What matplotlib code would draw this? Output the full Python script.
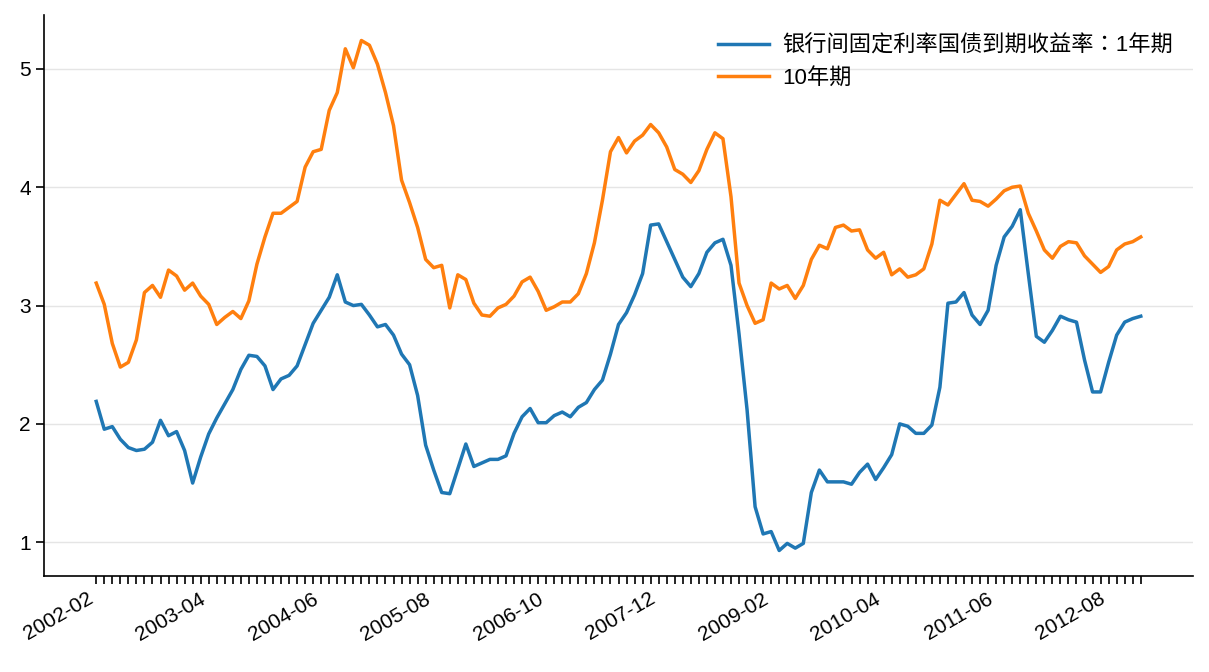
import matplotlib
matplotlib.use("Agg")
import matplotlib.pyplot as plt
import pandas as pd

plt.rcParams['font.family'] = ['Liberation Sans', 'Noto Sans CJK SC', 'DejaVu Sans']
plt.rcParams['font.size'] = 14
plt.rcParams['axes.unicode_minus'] = False

# monthly dates, 2002-02 .. 2012-12
dates = pd.date_range('2002-02-01', periods=131, freq='MS')

# 1-year yield
yield_1y = [
    2.19, 1.955, 1.977, 1.87, 1.80, 1.775, 1.786, 1.845, 2.03, 1.90, 1.935, 1.775, 1.50, 1.72, 1.915, 2.05, 2.17, 2.29, 2.46, 2.58, 2.57, 2.49,
    2.29, 2.38, 2.41, 2.49, 2.67, 2.85, 2.96, 3.07, 3.26, 3.03, 3.00, 3.01, 2.92, 2.82, 2.84, 2.75, 2.59, 2.50, 2.24, 1.82, 1.61, 1.42,
    1.41, 1.62, 1.83, 1.64, 1.67, 1.70, 1.70, 1.73, 1.92, 2.06, 2.13, 2.01, 2.01, 2.07, 2.10, 2.06, 2.14, 2.18, 2.29, 2.37, 2.59, 2.84,
    2.94, 3.09, 3.27, 3.68, 3.69, 3.54, 3.39, 3.24, 3.16, 3.27, 3.45, 3.53, 3.56, 3.34, 2.76, 2.12, 1.30, 1.07, 1.09, 0.93, 0.99, 0.95,
    0.99, 1.42, 1.61, 1.51, 1.51, 1.51, 1.49, 1.59, 1.66, 1.53, 1.63, 1.74, 2.00, 1.98, 1.92, 1.92, 1.99, 2.31, 3.02, 3.03, 3.11,
    2.92, 2.84, 2.96, 3.34, 3.58, 3.67, 3.81, 3.27, 2.74, 2.69, 2.79, 2.91, 2.88, 2.86, 2.54, 2.27, 2.27, 2.52, 2.75, 2.86, 2.89, 2.91,
]

# 10-year yield
yield_10y = [
    3.19, 3.01, 2.68, 2.48, 2.52, 2.71, 3.11, 3.17, 3.07, 3.30, 3.25, 3.13, 3.19, 3.08, 3.01, 2.84, 2.90, 2.95, 2.89, 3.04, 3.35, 3.58,
    3.78, 3.78, 3.83, 3.88, 4.17, 4.30, 4.32, 4.65, 4.80, 5.17, 5.01, 5.24, 5.20, 5.04, 4.80, 4.52, 4.06, 3.87, 3.66, 3.39, 3.32, 3.34,
    2.98, 3.26, 3.22, 3.02, 2.92, 2.91, 2.98, 3.01, 3.08, 3.20, 3.24, 3.12, 2.96, 2.99, 3.03, 3.03, 3.10, 3.27, 3.53, 3.89, 4.30, 4.42,
    4.29, 4.39, 4.44, 4.53, 4.46, 4.34, 4.15, 4.11, 4.04, 4.14, 4.32, 4.46, 4.41, 3.92, 3.19, 3.00, 2.85, 2.88, 3.19, 3.14, 3.17, 3.06,
    3.17, 3.39, 3.51, 3.48, 3.66, 3.68, 3.63, 3.64, 3.47, 3.40, 3.45, 3.26, 3.31, 3.24, 3.26, 3.31, 3.52, 3.89, 3.85, 3.94, 4.03,
    3.89, 3.88, 3.84, 3.90, 3.97, 4.00, 4.01, 3.78, 3.63, 3.47, 3.40, 3.50, 3.54, 3.53, 3.42, 3.35, 3.28, 3.33, 3.47, 3.52, 3.54, 3.58,
]

labels = ['银行间固定利率国债到期收益率：1年期', '10年期']

x = list(range(len(dates)))
tick_labels = [d.strftime('%Y-%m') if i % 14 == 0 else '' for i, d in enumerate(dates)]

fig = plt.figure(figsize=(12.09, 6.72), dpi=100)
ax = fig.add_axes([44 / 1209, 1 - 576 / 672, (1193 - 44) / 1209, (576 - 15) / 672])

ax.plot(x, yield_1y, color='#1f77b4', linewidth=2.5, label=labels[0])
ax.plot(x, yield_10y, color='#ff7f0e', linewidth=2.5, label=labels[1])

ax.set_xticks(x)
ax.set_xticklabels(tick_labels, rotation=30, ha='right', fontsize=15)
ax.set_yticks([1, 2, 3, 4, 5])
ax.tick_params(axis='both', length=6, width=1.2)
ax.tick_params(axis='y', labelsize=15)

ax.grid(True, axis='y', color='#e5e5e5', linewidth=1)
ax.set_axisbelow(True)
for side in ['top', 'right']:
    ax.spines[side].set_visible(False)
for side in ['left', 'bottom']:
    ax.spines[side].set_linewidth(1.2)

ax.legend(loc='upper right', frameon=False, handlelength=2.3, handletextpad=0.6,
          prop={'family': ['Liberation Sans', 'Noto Sans CJK TC'], 'size': 16})

plt.savefig('out.png', dpi=100)
